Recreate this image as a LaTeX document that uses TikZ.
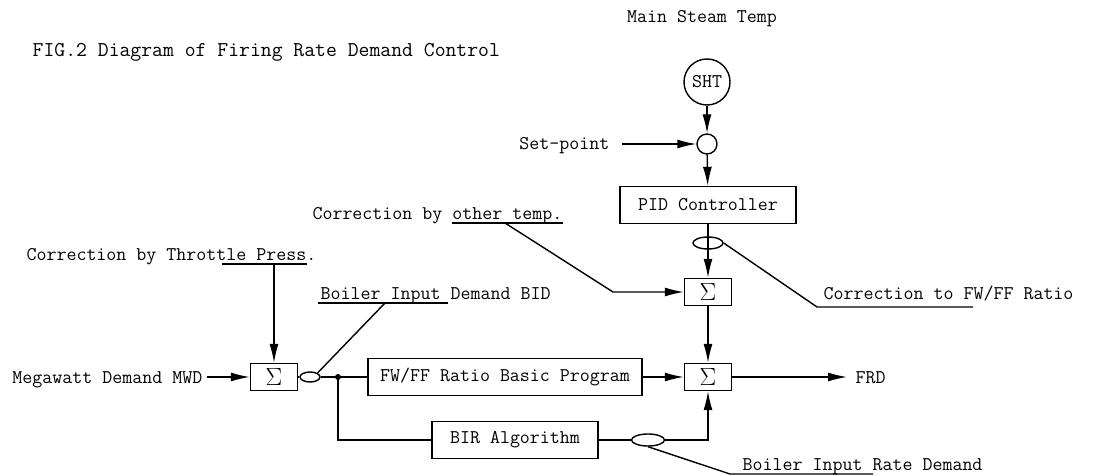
\documentclass[tikz,border=0pt]{standalone}
\usetikzlibrary{arrows.meta,shapes.geometric}
\newcommand{\lblfont}{\ttfamily\fontsize{19.4}{22}\selectfont}
\begin{document}
\begin{tikzpicture}[x=1pt,y=-1pt,line width=1.4pt,
    arr/.style={-{Latex[length=19pt,width=9pt]}},
    lbl/.style={inner sep=0pt,font=\lblfont},
    sumbox/.style={draw,minimum width=47pt,minimum height=27pt,inner sep=0pt,font=\fontsize{24}{24}\selectfont},
    block/.style={draw,minimum height=37pt,inner sep=0pt,font=\lblfont},
    tap/.style={draw,ellipse,inner sep=0pt}]
    \useasboundingbox (0,0) rectangle (1093,476);

    % Title and measured value
    \node[lbl,anchor=base west,font=\ttfamily\fontsize{21.1}{24}\selectfont] (title) at (32,57) {FIG.2 Diagram of Firing Rate Demand Control};
    \node[lbl,anchor=base] (steam) at (702,23) {Main Steam Temp};
    \node[draw,circle,minimum size=46pt,inner sep=0pt,font=\lblfont] (sht) at (707,82) {SHT};
    \node[draw,circle,minimum size=20pt,inner sep=0pt] (spt) at (707,144) {};
    \node[lbl,anchor=base east] (setp) at (610,150) {Set-point};
    \draw[arr] (sht) -- (spt);
    \draw[arr,shorten <=12pt] (setp.east |- spt) -- (spt);

    % Temperature loop
    \node[block,minimum width=176pt] (pid) at (708,205) {PID Controller};
    \node[tap,minimum width=30pt,minimum height=12pt] (pidtap) at (708,243) {};
    \node[sumbox] (sumt) at (708,292) {$\Sigma$};
    \node[sumbox] (sumf) at (708,377) {$\Sigma$};
    \draw[arr] (spt) -- (pid);
    \draw[arr] (pid) -- (sumt);
    \draw[arr] (sumt) -- (sumf);

    % Megawatt demand path
    \node[lbl,anchor=base east] (mwd) at (203,383) {Megawatt Demand MWD};
    \node[sumbox] (summ) at (274,377) {$\Sigma$};
    \node[tap,minimum width=20pt,minimum height=10pt] (bidtap) at (310,377) {};
    \fill (338,377) circle (3pt) coordinate (split);
    \node[block,minimum width=274pt] (ffprog) at (505,377) {FW/FF Ratio Basic Program};
    \node[block,minimum width=166pt] (bir) at (515,440) {BIR Algorithm};
    \node[tap,minimum width=33pt,minimum height=12pt] (birtap) at (648,440) {};
    \node[lbl,anchor=base west] (frd) at (855,383) {FRD};
    \draw[arr,shorten <=4pt] (mwd.east |- summ) -- (summ);
    \draw (summ) -- (bidtap);
    \draw (bidtap) -- (split) -- (ffprog);
    \draw (split) |- (bir);
    \draw[arr] (ffprog) -- (sumf);
    \draw (bir) -- (birtap);
    \draw[arr] (birtap) -| (sumf);
    \draw[arr,shorten >=8pt] (sumf) -- (frd.west |- sumf);

    % Correction by throttle pressure
    \node[lbl,anchor=base east] (thr) at (317,260) {Correction by Throttle Press.};
    \coordinate (thrL) at (222,264);
    \coordinate (thrR) at (307,264);
    \draw (thrL) -- (thrR);
    \draw[arr] (summ |- thrL) -- (summ);

    % Correction by other temperature
    \node[lbl,anchor=base east] (oth) at (563,219) {Correction by other temp.};
    \coordinate (othL) at (452,223);
    \coordinate (othR) at (563,223);
    \coordinate (othT) at (505,223);
    \coordinate (othK) at (613,292);
    \draw (othL) -- (othR);
    \draw[arr] (othT) -- (othK) -- (sumt);

    % Leader labels
    \node[lbl,anchor=base west] (bid) at (320,299) {Boiler Input Demand BID};
    \coordinate (bidL) at (318,303);
    \coordinate (bidR) at (448,303);
    \coordinate (bidT) at (385,303);
    \draw (bidL) -- (bidR);
    \draw (bidT) -- (bidtap.north east);

    \node[lbl,anchor=base west] (rat) at (823,299) {Correction to FW/FF Ratio};
    \coordinate (ratK) at (817,307);
    \coordinate (ratR) at (973,307);
    \draw (pidtap.east) -- (ratK) -- (ratR);

    \node[lbl,anchor=base west] (birl) at (742,470) {Boiler Input Rate Demand};
    \coordinate (birK) at (730,474);
    \coordinate (birR) at (873,474);
    \draw (birtap.south) -- (birK) -- (birR);
\end{tikzpicture}
\end{document}
